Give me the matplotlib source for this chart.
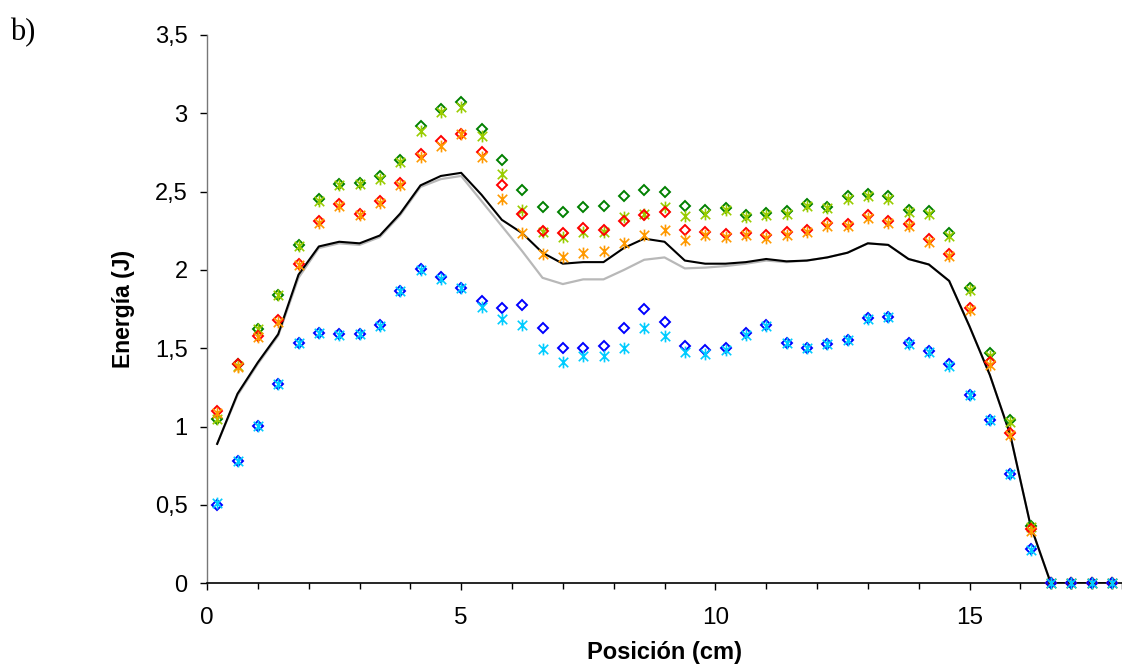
import numpy as np
import matplotlib.pyplot as plt
from matplotlib.path import Path
from matplotlib.ticker import FuncFormatter, MultipleLocator

# positions (cm)
pos = [0.2, 0.6, 1.0, 1.4, 1.8, 2.2, 2.6, 3.0, 3.4, 3.8,
       4.2, 4.6, 5.0, 5.4, 5.8, 6.2, 6.6, 7.0, 7.4, 7.8,
       8.2, 8.6, 9.0, 9.4, 9.8, 10.2, 10.6, 11.0, 11.4, 11.8,
       12.2, 12.6, 13.0, 13.4, 13.8, 14.2, 14.6, 15.0, 15.4, 15.8,
       16.2, 16.6, 17.0, 17.4, 17.8]

green_d = [1.05, 1.40, 1.62, 1.84, 2.16, 2.45, 2.55, 2.555, 2.60, 2.70,
           2.92, 3.03, 3.075, 2.90, 2.70, 2.51, 2.40, 2.37, 2.40, 2.41,
           2.47, 2.51, 2.50, 2.41, 2.385, 2.395, 2.35, 2.365, 2.375, 2.42,
           2.405, 2.47, 2.485, 2.47, 2.385, 2.375, 2.235, 1.885, 1.47, 1.04,
           0.365, 0, 0, 0, 0]
lime_s = [1.05, 1.39, 1.62, 1.84, 2.15, 2.44, 2.54, 2.55, 2.58, 2.69,
          2.89, 3.01, 3.04, 2.855, 2.61, 2.38, 2.245, 2.21, 2.24, 2.245,
          2.335, 2.36, 2.405, 2.345, 2.36, 2.38, 2.335, 2.35, 2.36, 2.41,
          2.395, 2.45, 2.47, 2.45, 2.37, 2.355, 2.215, 1.87, 1.45, 1.03,
          0.36, 0, 0, 0, 0]
red_d = [1.10, 1.40, 1.58, 1.68, 2.04, 2.31, 2.42, 2.36, 2.44, 2.555,
         2.74, 2.82, 2.87, 2.755, 2.54, 2.36, 2.25, 2.235, 2.27, 2.255,
         2.315, 2.35, 2.37, 2.255, 2.245, 2.23, 2.235, 2.22, 2.245, 2.255,
         2.30, 2.295, 2.35, 2.315, 2.295, 2.20, 2.105, 1.755, 1.41, 0.96,
         0.345, 0, 0, 0, 0]
orange_s = [1.09, 1.38, 1.57, 1.67, 2.03, 2.30, 2.41, 2.35, 2.43, 2.54,
            2.72, 2.79, 2.87, 2.72, 2.45, 2.235, 2.10, 2.08, 2.11, 2.12,
            2.17, 2.22, 2.255, 2.19, 2.225, 2.21, 2.225, 2.205, 2.225, 2.24,
            2.28, 2.28, 2.33, 2.30, 2.28, 2.18, 2.09, 1.745, 1.395, 0.945,
            0.335, 0, 0, 0, 0]
blue_d = [0.50, 0.78, 1.005, 1.27, 1.535, 1.60, 1.59, 1.59, 1.65, 1.865,
          2.005, 1.955, 1.885, 1.80, 1.76, 1.775, 1.63, 1.505, 1.50, 1.515,
          1.63, 1.75, 1.67, 1.515, 1.49, 1.50, 1.595, 1.65, 1.535, 1.505,
          1.53, 1.555, 1.695, 1.70, 1.535, 1.48, 1.40, 1.205, 1.045, 0.70,
          0.22, 0, 0, 0, 0]
cyan_s = [0.51, 0.78, 1.005, 1.27, 1.535, 1.60, 1.585, 1.59, 1.645, 1.865,
          2.00, 1.94, 1.885, 1.765, 1.69, 1.65, 1.495, 1.415, 1.45, 1.45,
          1.505, 1.63, 1.58, 1.475, 1.465, 1.49, 1.585, 1.64, 1.535, 1.50,
          1.525, 1.55, 1.69, 1.70, 1.53, 1.475, 1.39, 1.205, 1.04, 0.695,
          0.215, 0, 0, 0, 0]
black_line = [0.89, 1.21, 1.41, 1.59, 1.97, 2.15, 2.18, 2.17, 2.22, 2.36,
              2.54, 2.60, 2.62, 2.48, 2.32, 2.235, 2.11, 2.04, 2.05, 2.05,
              2.14, 2.20, 2.18, 2.06, 2.04, 2.04, 2.05, 2.07, 2.055, 2.06,
              2.08, 2.11, 2.17, 2.16, 2.07, 2.035, 1.93, 1.64, 1.33, 0.95,
              0.37, 0, 0, 0, 0]
gray_line = [0.89, 1.20, 1.40, 1.58, 1.95, 2.14, 2.17, 2.16, 2.21, 2.35,
             2.53, 2.58, 2.60, 2.44, 2.28, 2.12, 1.95, 1.91, 1.94, 1.94,
             2.00, 2.065, 2.08, 2.01, 2.015, 2.025, 2.04, 2.06, 2.05, 2.06,
             2.08, 2.11, 2.17, 2.16, 2.07, 2.035, 1.93, 1.64, 1.33, 0.95,
             0.37, 0, 0, 0, 0]

# excel style star: X with a vertical bar
star = Path([(0, -1), (0, 1), (-0.8, -0.8), (0.8, 0.8), (-0.8, 0.8), (0.8, -0.8)],
            [Path.MOVETO, Path.LINETO, Path.MOVETO, Path.LINETO, Path.MOVETO, Path.LINETO])

plt.rcParams['font.family'] = ['Liberation Sans', 'DejaVu Sans']

fig = plt.figure(figsize=(11.22, 6.66), dpi=100)
ax = fig.add_axes([0.1845, 0.1242, 0.8155, 0.8233])

ax.plot(pos, gray_line, color='#b8b8b8', lw=1.6, zorder=2, solid_joinstyle='round')
ax.plot(pos, black_line, color='black', lw=1.5, zorder=2, solid_joinstyle='round')

series = [(green_d, 'D', '#008000'), (lime_s, star, '#99cc00'),
          (red_d, 'D', '#ff0000'), (orange_s, star, '#ff9900'),
          (blue_d, 'D', '#0000ff'), (cyan_s, star, '#00ccff')]
for vals, mk, col in series:
    if mk == 'D':
        ax.plot(pos, vals, ls='none', marker='D', ms=5.6, mfc='none', mec=col,
                mew=1.4, zorder=3, clip_on=False)
    else:
        ax.plot(pos, vals, ls='none', marker=mk, ms=8.5, mec=col,
                mew=1.2, zorder=3, clip_on=False)

ax.set_xlim(0, 18)
ax.set_ylim(0, 3.5)
ax.xaxis.set_major_locator(MultipleLocator(5))
ax.xaxis.set_minor_locator(MultipleLocator(1))
ax.yaxis.set_major_locator(MultipleLocator(0.5))
comma = FuncFormatter(lambda v, p: ('%g' % v).replace('.', ','))
ax.yaxis.set_major_formatter(comma)
ax.xaxis.set_major_formatter(comma)

for s in ['top', 'right']:
    ax.spines[s].set_visible(False)
ax.spines['left'].set_color('#777777')
ax.spines['left'].set_linewidth(1.0)
ax.spines['bottom'].set_linewidth(1.2)

ax.tick_params(axis='y', direction='out', length=5, width=1, labelsize=17, pad=9)
ax.tick_params(axis='x', which='major', direction='out', length=5, width=1,
               labelsize=17.5, pad=12)
ax.tick_params(axis='x', which='minor', direction='out', length=4.5, width=1)

ax.set_xlabel('Posición (cm)', fontsize=17, fontweight='bold', labelpad=9)
ax.set_ylabel('Energía (J)', fontsize=16.5, fontweight='bold', labelpad=14)

fig.text(0.009, 0.94, 'b)', family=['Liberation Serif', 'DejaVu Serif'], fontsize=22)

fig.savefig('out.png', dpi=100)
